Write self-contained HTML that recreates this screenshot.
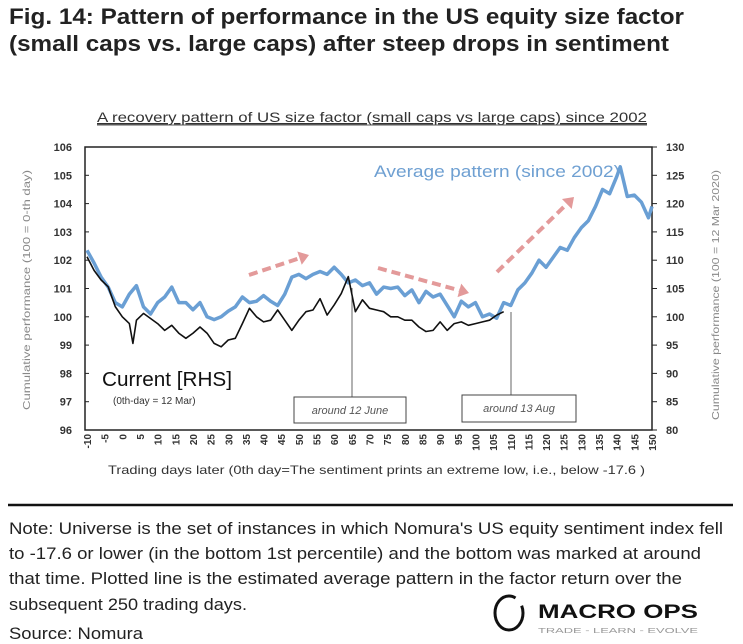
<!DOCTYPE html>
<html><head><meta charset="utf-8"><style>
html,body{margin:0;padding:0;background:#fff;}
svg{display:block;font-family:"Liberation Sans",sans-serif;}
</style></head><body>
<svg id="chart" width="743" height="644" viewBox="0 0 743 644" xmlns="http://www.w3.org/2000/svg">
<text x="9" y="24" font-size="22" font-weight="bold" fill="#222" textLength="675" lengthAdjust="spacingAndGlyphs">Fig. 14: Pattern of performance in the US equity size factor</text>
<text x="9" y="51" font-size="22" font-weight="bold" fill="#222" textLength="660" lengthAdjust="spacingAndGlyphs">(small caps vs. large caps) after steep drops in sentiment</text>
<text x="97" y="122" font-size="14" fill="#333" textLength="550" lengthAdjust="spacingAndGlyphs" text-decoration="underline">A recovery pattern of US size factor (small caps vs large caps)  since 2002</text>
<line x1="97" y1="125" x2="647" y2="125" stroke="#555" stroke-width="1"/>
<rect x="85" y="147" width="567" height="283" fill="none" stroke="#222" stroke-width="1.5"/>
<g id="axes"></g>
<g id="annot">
  <line x1="352" y1="288" x2="352" y2="397" stroke="#666" stroke-width="1"/>
  <line x1="511" y1="312" x2="511" y2="395" stroke="#666" stroke-width="1"/>
  <rect x="294" y="397" width="112" height="26" fill="#fff" stroke="#444" stroke-width="1"/>
  <text x="350" y="414" font-size="11" font-style="italic" fill="#555" text-anchor="middle">around 12 June</text>
  <rect x="462" y="395" width="114" height="27" fill="#fff" stroke="#444" stroke-width="1"/>
  <text x="519" y="412" font-size="11" font-style="italic" fill="#555" text-anchor="middle">around 13 Aug</text>
  <text x="374" y="177" font-size="17" fill="#6fa0d2" textLength="246" lengthAdjust="spacingAndGlyphs">Average pattern (since 2002)</text>
  <text x="102" y="386" font-size="20" fill="#111" textLength="130" lengthAdjust="spacingAndGlyphs">Current [RHS]</text>
  <text x="113" y="404" font-size="10" fill="#333">(0th-day = 12 Mar)</text>
</g>
<text x="108" y="474" font-size="12" fill="#333" textLength="537" lengthAdjust="spacingAndGlyphs">Trading days later (0th day=The sentiment prints an extreme low, i.e., below -17.6 )</text>
<text transform="translate(30,290) rotate(-90)" font-size="10" fill="#888" text-anchor="middle" textLength="240" lengthAdjust="spacingAndGlyphs">Cumulative performance (100 = 0-th day)</text>
<text transform="translate(719,295) rotate(-90)" font-size="10" fill="#888" text-anchor="middle" textLength="250" lengthAdjust="spacingAndGlyphs">Cumulative performance (100 = 12 Mar 2020)</text>
<line x1="8" y1="505" x2="733" y2="505" stroke="#111" stroke-width="2.5"/>
<g font-size="17" fill="#222">
<text x="9" y="534" textLength="714" lengthAdjust="spacingAndGlyphs">Note: Universe is the set of instances in which Nomura's US equity sentiment index fell</text>
<text x="9" y="559" textLength="692" lengthAdjust="spacingAndGlyphs">to -17.6 or lower (in the bottom 1st percentile) and the bottom was marked at around</text>
<text x="9" y="584" textLength="673" lengthAdjust="spacingAndGlyphs">that time. Plotted line is the estimated average pattern in the factor return over the</text>
<text x="9" y="610" textLength="238" lengthAdjust="spacingAndGlyphs">subsequent 250 trading days.</text>
<text x="9" y="639" textLength="134" lengthAdjust="spacingAndGlyphs">Source: Nomura</text>
</g>
<g>
<ellipse cx="509" cy="613" rx="14" ry="17" fill="none" stroke="#111" stroke-width="3" stroke-dasharray="80 10"/>
<text x="538" y="618" font-size="19" font-weight="bold" fill="#111" textLength="160" lengthAdjust="spacingAndGlyphs">MACRO OPS</text>
<text x="538" y="633" font-size="7" fill="#999" textLength="160" lengthAdjust="spacingAndGlyphs">TRADE  -  LEARN  -  EVOLVE</text>
</g>
</svg>
<script>
const NS="http://www.w3.org/2000/svg";
const avgDays=[-10,-8,-6,-4,-2,0,2,4,6,8,10,12,14,16,18,20,22,24,26,28,30,32,34,36,38,40,42,44,46,48,50,52,54,56,58,60,62,64,66,68,70,72,74,76,78,80,82,84,86,88,90,92,94,96,98,100,102,104,106,108,110,112,114,116,118,120,122,124,126,128,130,132,134,136,138,140,141,143,145,147,149,150];
const avgValues=[102.35,101.9,101.4,101.05,100.5,100.35,100.8,101.1,100.35,100.1,100.5,100.7,101.05,100.5,100.5,100.25,100.5,100.0,99.9,100.0,100.2,100.35,100.7,100.5,100.55,100.75,100.55,100.4,100.8,101.4,101.5,101.35,101.5,101.6,101.5,101.75,101.5,101.2,101.3,101.1,101.2,100.8,101.05,101.0,101.05,100.75,100.95,100.5,100.9,100.7,100.8,100.4,100.0,100.55,100.35,100.5,100.0,100.1,99.95,100.5,100.4,100.95,101.2,101.55,102.0,101.75,102.1,102.45,102.35,102.8,103.15,103.4,103.9,104.5,104.35,104.95,105.3,104.25,104.3,104.05,103.5,103.9];
const curDays=[-10,-8,-6,-4,-2,0,2,3,4,6,8,10,12,14,16,18,20,22,24,26,28,30,32,34,36,38,40,42,44,46,48,50,52,54,56,58,60,62,64,66,68,70,72,74,76,78,80,82,84,86,88,90,92,94,96,98,100,102,104,106,108];
const curValues=[110.6,108.2,106.5,105.3,101.8,100,98.8,95.3,99.4,100.6,99.7,98.8,97.6,98.5,97.1,96.2,97.1,98.2,97.1,95.3,94.7,95.9,96.2,98.8,101.5,100,99.1,99.4,101.2,99.4,97.6,99.4,100.9,101.2,103.2,100.3,102.1,104.1,107.1,100.9,103,101.5,101.2,100.9,100,100,99.4,99.4,98.2,97.4,97.6,99.1,97.6,98.8,99.1,98.5,98.8,99.1,99.4,100.3,100.9];
const leftTicks=[96,97,98,99,100,101,102,103,104,105,106];
const rightTicks=[80,85,90,95,100,105,110,115,120,125,130];
const xTicks=[-10,-5,0,5,10,15,20,25,30,35,40,45,50,55,60,65,70,75,80,85,90,95,100,105,110,115,120,125,130,135,140,145,150];
const X0=87,X1=652,YT=147,YB=430;
const x=d=>X0+(d+10)/160*(X1-X0);
const yL=v=>YB-(v-96)/10*(YB-YT);
const yR=v=>YB-(v-80)/50*(YB-YT);
const svg=document.getElementById('chart');
const axes=document.getElementById('axes');
function mk(tag,attrs,parent){const e=document.createElementNS(NS,tag);for(const k in attrs)e.setAttribute(k,attrs[k]);(parent||svg).appendChild(e);return e;}
leftTicks.forEach(v=>{
  const t=mk('text',{x:72,y:yL(v)+4,'font-size':11,'font-weight':'bold','text-anchor':'end',fill:'#333'},axes);
  
  
  t.textContent=v;
  const l=mk('line',{x1:85,x2:89,y1:yL(v),y2:yL(v),stroke:'#222'},axes);
  
  
});
rightTicks.forEach(v=>{
  const t=mk('text',{x:666,y:yR(v)+4,'font-size':11,'font-weight':'bold',fill:'#333'},axes);
  
  
  t.textContent=v;
  const l=mk('line',{x1:652,x2:657,y1:yR(v),y2:yR(v),stroke:'#222'},axes);
  
  
});
xTicks.forEach(d=>{
  const t=mk('text',{transform:`translate(${x(d)+4},434) rotate(-90)`,'font-size':10,'font-weight':'bold','text-anchor':'end',fill:'#333'},axes);
  
  
  t.textContent=d;
});
const pAvg=mk('polyline',{points:avgDays.map((d,i)=>x(d)+','+yL(avgValues[i])).join(' '),fill:'none',stroke:'#6a9fd4','stroke-width':3.5,'stroke-linejoin':'round'});


const pCur=mk('polyline',{points:curDays.map((d,i)=>x(d)+','+yR(curValues[i])).join(' '),fill:'none',stroke:'#111','stroke-width':1.6,'stroke-linejoin':'round'});


const arrows=[[249,275,309,255],[378,268,469,293],[497,272,574,197]];
arrows.forEach(a=>{
  const [x1,y1,x2,y2]=a;const ang=Math.atan2(y2-y1,x2-x1);
  const bx=x2-10*Math.cos(ang),by=y2-10*Math.sin(ang);
  const l=mk('line',{x1:x1,y1:y1,x2:bx,y2:by,stroke:'#e39a9a','stroke-width':4,'stroke-dasharray':'9 5'});
  
  
  const px=-Math.sin(ang)*7,py=Math.cos(ang)*7;
  const h=mk('polygon',{points:`${x2},${y2} ${bx+px},${by+py} ${bx-px},${by-py}`,fill:'#e39a9a'});
  
  
});
</script>
</body></html>
